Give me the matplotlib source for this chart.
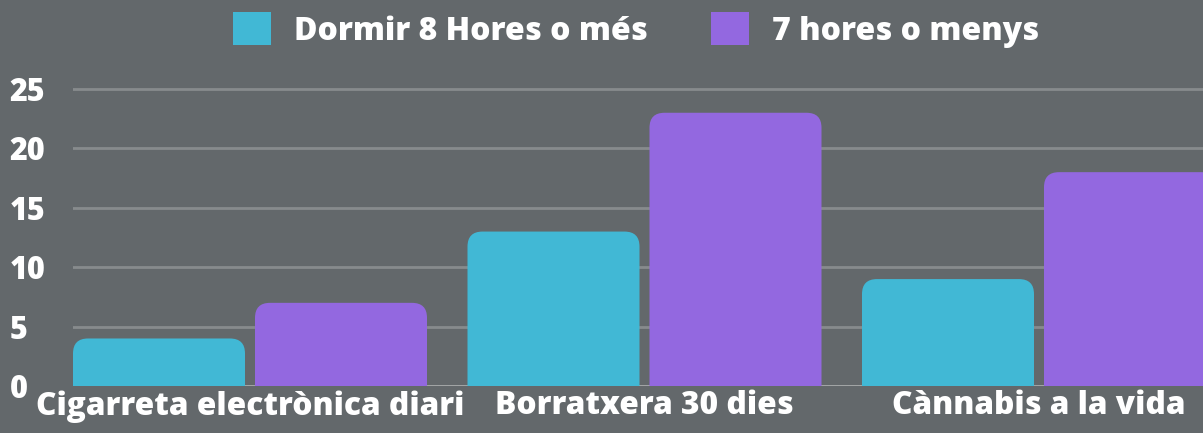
import matplotlib
matplotlib.use("Agg")

import numpy as np
import matplotlib.pyplot as plt
from matplotlib.patches import FancyBboxPatch, Patch

categories = ["Cigarreta electrònica diari", "Borratxera 30 dies", "Cànnabis a la vida"]
series_names = ["Dormir 8 Hores o més", "7 hores o menys"]
dormir_8 = [4, 13, 9]
menys_7 = [7, 23, 18]
yticks = [0, 5, 10, 15, 20, 25]

BG = "#63686b"
CYAN = "#41b8d5"
PURPLE = "#9368e0"
GRID = "#878b8d"
WEIGHT = 800

plt.rcParams["font.family"] = ["Open Sans", "DejaVu Sans"]

W, H = 1203, 433
fig = plt.figure(figsize=(W / 100, H / 100), dpi=100, facecolor=BG)

# axes placed in pixels: x from 73 to 1203, y=0 at 386, 11.88 px per unit
px_per_y = 297 / 25
ymax = 26
ax_bottom = (H - 386) / H
ax_height = ymax * px_per_y / H
ax = fig.add_axes([73 / W, ax_bottom, 1 - 73 / W, ax_height], facecolor=BG)

group_px = 394.5
xmax = (W - 73) / group_px
bar_w = 172 / group_px
offset2 = 182 / group_px
x = np.arange(len(categories))

ax.set_xlim(0, xmax)
ax.set_ylim(0, ymax)

# gridlines
for t in yticks:
    ax.axhline(t, color="#a9acad" if t == 0 else GRID, lw=2, zorder=1)

# rounded top bars
radius = 15 / group_px
aspect = group_px / px_per_y
for vals, off, col in [(dormir_8, 0, CYAN), (menys_7, offset2, PURPLE)]:
    for xi, v in zip(x, vals):
        p = FancyBboxPatch((xi + off, -3), bar_w, v + 3,
                           boxstyle=f"round,pad=0,rounding_size={radius}",
                           mutation_aspect=aspect, fc=col, ec="none", zorder=2)
        ax.add_patch(p)

for s in ax.spines.values():
    s.set_visible(False)
ax.set_yticks(yticks)
ax.set_yticklabels([str(t) for t in yticks], fontsize=22, fontweight=WEIGHT, color="white")
ax.tick_params(axis="y", length=0, pad=45.5)
for lbl in ax.get_yticklabels():
    lbl.set_horizontalalignment("left")

ax.set_xticks(x + (offset2 + bar_w) / 2)
ax.set_xticklabels(categories, fontsize=22.8, fontweight=WEIGHT, color="white")
ax.tick_params(axis="x", length=0, pad=3)

handles = [Patch(fc=CYAN, ec="none"), Patch(fc=PURPLE, ec="none")]
leg = fig.legend(handles, series_names, loc="center", bbox_to_anchor=(636 / W, 1 - 30 / H),
                 ncol=2, frameon=False, fontsize=23, handlelength=1.19, handleheight=1.19,
                 handletextpad=0.72, columnspacing=2.0, borderpad=0)
for t in leg.get_texts():
    t.set_color("white")
    t.set_fontweight(WEIGHT)

fig.savefig("out.png", dpi=100, facecolor=BG)
